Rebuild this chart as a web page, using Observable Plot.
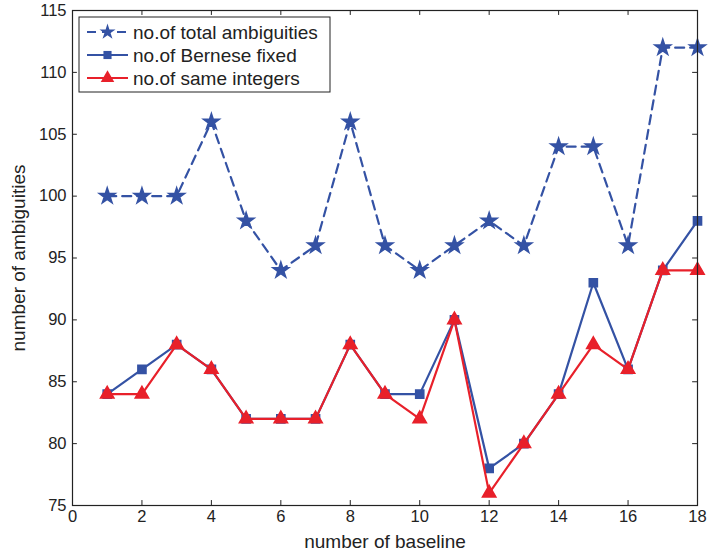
<!DOCTYPE html>
<html><head><meta charset="utf-8">
<script src="https://cdn.jsdelivr.net/npm/d3@7"></script>
<script src="https://cdn.jsdelivr.net/npm/@observablehq/plot@0.6"></script>
<style>body{margin:0;background:#fff;} #c{position:relative;}</style>
</head><body><div id="c"></div>
<script>
const baseline = [1,2,3,4,5,6,7,8,9,10,11,12,13,14,15,16,17,18];
const totalAmb = [100,100,100,106,98,94,96,106,96,94,96,98,96,104,104,96,112,112];
const berneseFixed = [84,86,88,86,82,82,82,88,84,84,90,78,80,84,93,86,94,98];
const sameIntegers = [84,84,88,86,82,82,82,88,84,82,90,76,80,84,88,86,94,94];
const xTicks = [0,2,4,6,8,10,12,14,16,18];
const yTicks = [75,80,85,90,95,100,105,110,115];
const seriesNames = ["no.of total ambiguities","no.of Bernese fixed","no.of same integers"];

const BLUE = "#3452a4", RED = "#e8202a";
const total = baseline.map((b,i)=>({x:b,y:totalAmb[i]}));
const bern = baseline.map((b,i)=>({x:b,y:berneseFixed[i]}));
const same = baseline.map((b,i)=>({x:b,y:sameIntegers[i]}));
const tl = 0.14, tly = 0.4;

const plot = Plot.plot({
  width: 709, height: 555,
  marginLeft: 72, marginRight: 12, marginTop: 10, marginBottom: 50,
  style: {fontFamily: "Liberation Sans, Arial, sans-serif", fontSize: "16px", color: "#222", background: "#fff"},
  x: {domain: [0,18], ticks: xTicks, label: null},
  y: {domain: [75,115], ticks: yTicks, label: null},
  marks: [
    Plot.axisX({ticks: xTicks, tickSize: 0, tickPadding: 5, fontSize: 16.5, label: null}),
    Plot.axisX({ticks: [], tickSize: 0, fontSize: 19, label: "number of baseline", labelAnchor: "center", labelArrow: "none", labelOffset: 42}),
    Plot.axisY({ticks: yTicks, tickSize: 0, tickPadding: 6, fontSize: 16.5, label: null}),
    Plot.axisY({ticks: [], tickSize: 0, fontSize: 19, label: "number of ambiguities", labelAnchor: "center", labelArrow: "none", labelOffset: 61}),
    Plot.ruleX(xTicks, {x: d=>d, y1: 75, y2: 75+tly, stroke: "#222"}),
    Plot.ruleX(xTicks, {x: d=>d, y1: 115-tly, y2: 115, stroke: "#222"}),
    Plot.ruleY(yTicks, {y: d=>d, x1: 0, x2: tl, stroke: "#222"}),
    Plot.ruleY(yTicks, {y: d=>d, x1: 18-tl, x2: 18, stroke: "#222"}),
    Plot.line(total, {x:"x", y:"y", stroke: BLUE, strokeWidth: 2.2, strokeDasharray: "9,6"}),
    Plot.dot(total, {x:"x", y:"y", symbol: "star", r: 5, fill: BLUE, stroke: BLUE}),
    Plot.line(bern, {x:"x", y:"y", stroke: BLUE, strokeWidth: 2.2}),
    Plot.dot(bern, {x:"x", y:"y", symbol: "square", r: 4.6, fill: BLUE, stroke: BLUE}),
    Plot.line(same, {x:"x", y:"y", stroke: RED, strokeWidth: 2.2}),
    Plot.dot(same, {x:"x", y:"y", symbol: "triangle", r: 5, fill: RED, stroke: RED}),
    Plot.frame({stroke: "#222", strokeWidth: 1.2})
  ]
});
document.getElementById("c").appendChild(plot);

// legend inside the plot area
const svg = d3.select(plot);
const g = svg.append("g").attr("fill","#222").attr("text-anchor","start");
g.append("rect").attr("x",79).attr("y",17).attr("width",251).attr("height",75).attr("fill","#fff").attr("stroke","#222").attr("stroke-width",1);
const items = [
  {name: seriesNames[0], color: BLUE, dash: "9,6", sym: d3.symbolStar, size: 80},
  {name: seriesNames[1], color: BLUE, dash: null, sym: d3.symbolSquare, size: 66},
  {name: seriesNames[2], color: RED, dash: null, sym: d3.symbolTriangle, size: 80}
];
items.forEach((it,i)=>{
  const y = 32 + i*23;
  g.append("line").attr("x1",87).attr("x2",128).attr("y1",y).attr("y2",y).attr("stroke",it.color).attr("stroke-width",2.2).attr("stroke-dasharray", it.dash);
  g.append("path").attr("d", d3.symbol(it.sym, it.size)()).attr("transform",`translate(107.5,${y})`).attr("fill",it.color);
  g.append("text").attr("x",133).attr("y",y).attr("dy","0.35em").attr("text-anchor","start")
    .style("font-family","Liberation Sans, Arial, sans-serif").style("font-size","19px").text(it.name);
});
</script>
</body></html>
